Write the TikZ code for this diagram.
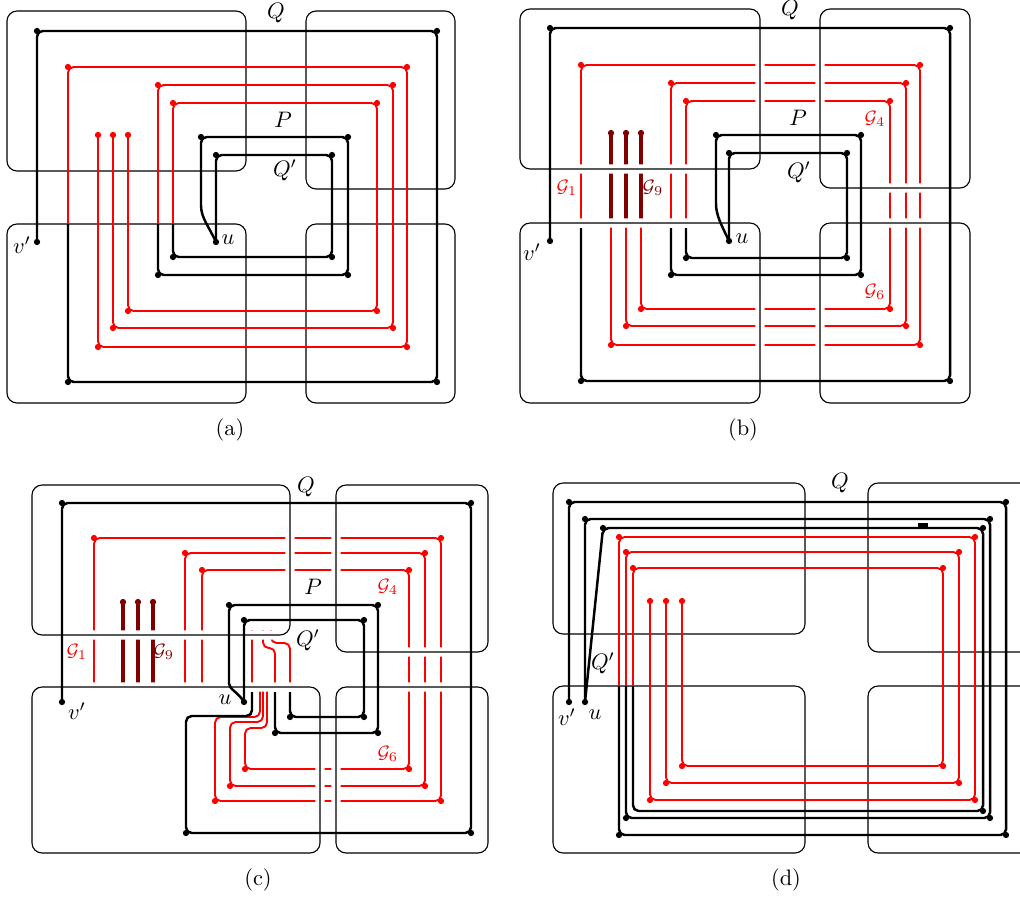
\documentclass[tikz,border=0pt]{standalone}
\usepackage{amsmath}
\usetikzlibrary{calc}
\colorlet{dred}{red!50!black}
\tikzset{
 box/.style={rounded corners=4.5pt,line width=0.5pt},
 gbox/.style={box,preaction={draw=white,line width=4.2pt}},
 blk/.style={line width=1.1pt,rounded corners=2.5pt},
 rd/.style={red,line width=0.85pt,rounded corners=2.5pt},
 drd/.style={dred,line width=1.6pt},
 glab/.style={red,font=\footnotesize,inner sep=0pt}
}
\begin{document}
\begin{tikzpicture}[x=0.0157cm,y=-0.0157cm]
\useasboundingbox (0,0) rectangle (1020,897);
\clip (0,0) rectangle (1020,897);
% (a)
\draw[box] (7,11) rectangle (246,171); \draw[box] (306,11) rectangle (455,189);
\draw[box] (7,224) rectangle (246,403); \draw[box] (306,224) rectangle (455,403);
\draw[rd] (68,224)--(68,67)--(407,67)--(407,347)--(98,347)--(98,135);
\draw[rd] (158,224)--(158,85)--(393,85)--(393,328)--(113,328)--(113,135);
\draw[rd] (173,224)--(173,103)--(377,103)--(377,311)--(128,311)--(128,135);
\draw[blk] (37,242)--(37,31)--(437,31)--(437,382)--(68,382)--(68,224);
\draw[blk] (216,242) to[out=115,in=-90] (201,200)--(201,137)--(348,137)--(348,275)--(158,275)--(158,224);
\draw[blk] (216,242)--(216,155)--(332,155)--(332,257)--(173,257)--(173,224);
\foreach \x/\y in {37/242,37/31,437/31,437/382,68/382,216/242,201/137,348/137,348/275,158/275,216/155,332/155,332/257,173/257}{\fill (\x,\y) circle (1.4pt);}
\foreach \x/\y in {68/67,407/67,407/347,98/347,98/135,158/85,393/85,393/328,113/328,113/135,173/103,377/103,377/311,128/311,128/135}{\fill[red] (\x,\y) circle (1.4pt);}
\node (Qa) at (276,13) {$Q$}; \node (Pa) at (283,120) {$P$}; \node (Qpa) at (285,170) {$Q'$};
\node (ua) at (228,240) {$u$}; \node (va) at (22,245) {$v'$};
\node (capa) at (230,430) {(a)};
% (b)
\begin{scope}[shift={(513,-2)}]
\draw[rd] (68,224)--(68,67)--(407,67)--(407,347)--(98,347)--(98,224);
\draw[rd] (158,224)--(158,85)--(393,85)--(393,328)--(113,328)--(113,224);
\draw[rd] (173,224)--(173,103)--(377,103)--(377,311)--(128,311)--(128,224);
\foreach \x in {98,113,128}{\draw[drd] (\x,224)--(\x,135);}
\draw[gbox] (7,11) rectangle (247,171); \draw[gbox] (307,11) rectangle (457,190);
\draw[gbox] (7,225) rectangle (247,405); \draw[gbox] (307,225) rectangle (457,405);
\draw[blk] (37,243)--(37,30)--(437,30)--(437,383)--(68,383)--(68,230);
\draw[blk] (216,243) to[out=115,in=-90] (203,200)--(203,137)--(348,137)--(348,277)--(158,277)--(158,230);
\draw[blk] (216,243)--(216,155)--(334,155)--(334,260)--(173,260)--(173,230);
\foreach \x/\y in {37/243,37/30,437/30,437/383,68/383,216/243,203/137,348/137,348/277,158/277,216/155,334/155,334/260,173/260}{\fill (\x,\y) circle (1.4pt);}
\foreach \x/\y in {68/67,407/67,407/347,98/347,158/85,393/85,393/328,113/328,173/103,377/103,377/311,128/311}{\fill[red] (\x,\y) circle (1.4pt);}
\foreach \x in {98,113,128}{\fill[dred] (\x,135) circle (1.4pt);}
\node (Qb) at (277,12) {$Q$}; \node (Pb) at (285,120) {$P$}; \node (Qpb) at (286,174) {$Q'$};
\node (ub) at (229,241) {$u$}; \node (vb) at (19,254) {$v'$};
\node[glab] (G1b) at (54,190) {$\mathcal{G}_1$}; \node[glab,dred] (G9b) at (140,190) {$\mathcal{G}_9$};
\node[glab] (G4b) at (362,121) {$\mathcal{G}_4$}; \node[glab] (G6b) at (362,294) {$\mathcal{G}_6$};
\end{scope}
\node (capb) at (743,430) {(b)};
% (c)
\draw[rd] (260,687)--(260,717)--(215,717)--(215,801)--(441,801)--(441,538)--(94,538)--(94,687);
\draw[rd] (263,687)--(263,722)--(230,722)--(230,786)--(425,786)--(425,553)--(185,553)--(185,687);
\draw[rd] (267,687)--(267,728)--(245,728)--(245,769)--(409,769)--(409,570)--(202,570)--(202,687);
\draw[rd] (252,630)--(252,690);
\draw[rd] (275,690)--(275,648)--(263,648)--(263,630);
\draw[rd] (290,690)--(290,643)--(271,643)--(271,630);
\foreach \x in {123,138,153}{\draw[drd] (\x,602)--(\x,690);}
\draw[gbox] (32,485) rectangle (290,635); \draw[gbox] (336,485) rectangle (488,652);
\draw[gbox] (32,687) rectangle (320,853); \draw[gbox] (336,687) rectangle (488,853);
\draw[blk] (62,702)--(62,503)--(471,503)--(471,833)--(186,833)--(186,716)--(252,716)--(252,692);
\draw[blk] (244,702) to[out=120,in=-90] (229,678)--(229,605)--(378,605)--(378,733)--(275,733)--(275,692);
\draw[blk] (244,702)--(244,620)--(364,620)--(364,717)--(290,717)--(290,692);
\foreach \x/\y in {62/702,62/503,471/503,471/833,186/833,244/702,229/605,378/605,378/733,275/733,244/620,364/620,364/717,290/717}{\fill (\x,\y) circle (1.4pt);}
\foreach \x/\y in {94/538,441/538,441/801,215/801,185/553,425/553,425/786,230/786,202/570,409/570,409/769,245/769}{\fill[red] (\x,\y) circle (1.4pt);}
\foreach \x in {123,138,153}{\fill[dred] (\x,602) circle (1.4pt);}
\node (Qc) at (306,487) {$Q$}; \node (Pc) at (313,587) {$P$}; \node (Qpc) at (308,640) {$Q'$};
\node (uc) at (225,700) {$u$}; \node (vc) at (77,711) {$v'$};
\node[glab] (G1c) at (77,652) {$\mathcal{G}_1$}; \node[glab,dred] (G9c) at (164,652) {$\mathcal{G}_9$};
\node[glab] (G4c) at (388,587) {$\mathcal{G}_4$}; \node[glab] (G6c) at (388,754) {$\mathcal{G}_6$};
\node (capc) at (258,880) {(c)};
% (d)
\draw[box] (553,483) rectangle (805,634); \draw[box] (868,483) rectangle (1040,652);
\draw[box] (553,686) rectangle (805,853); \draw[box] (868,686) rectangle (1040,853);
\draw[rd] (619,686)--(619,537)--(975,537)--(975,800)--(650,800)--(650,601);
\draw[rd] (626,686)--(626,552)--(959,552)--(959,783)--(666,783)--(666,601);
\draw[rd] (633,686)--(633,568)--(943,568)--(943,766)--(682,766)--(682,601);
\draw[blk] (569,702)--(569,502)--(1006,502)--(1006,835)--(619,835)--(619,686);
\draw[blk] (585,702)--(585,519)--(990,519)--(990,818)--(626,818)--(626,686);
\draw[blk] (585,702)--(603,528)--(983,528)--(983,811)--(633,811)--(633,686);
\draw[line width=1.4pt] (918,525)--(928,525);
\foreach \x/\y in {569/702,585/702,569/502,1006/502,1006/835,619/835,585/519,990/519,990/818,626/818,603/528,983/528,983/811}{\fill (\x,\y) circle (1.4pt);}
\foreach \x/\y in {619/537,975/537,975/800,650/800,650/601,626/552,959/552,959/783,666/783,666/601,633/568,943/568,943/766,682/766,682/601}{\fill[red] (\x,\y) circle (1.4pt);}
\node (Qd) at (840,483) {$Q$}; \node (Qpd) at (603,663) {$Q'$};
\node (ud) at (595,715) {$u$}; \node (vd) at (567,717) {$v'$};
\node (capd) at (786,880) {(d)};
\end{tikzpicture}
\end{document}
